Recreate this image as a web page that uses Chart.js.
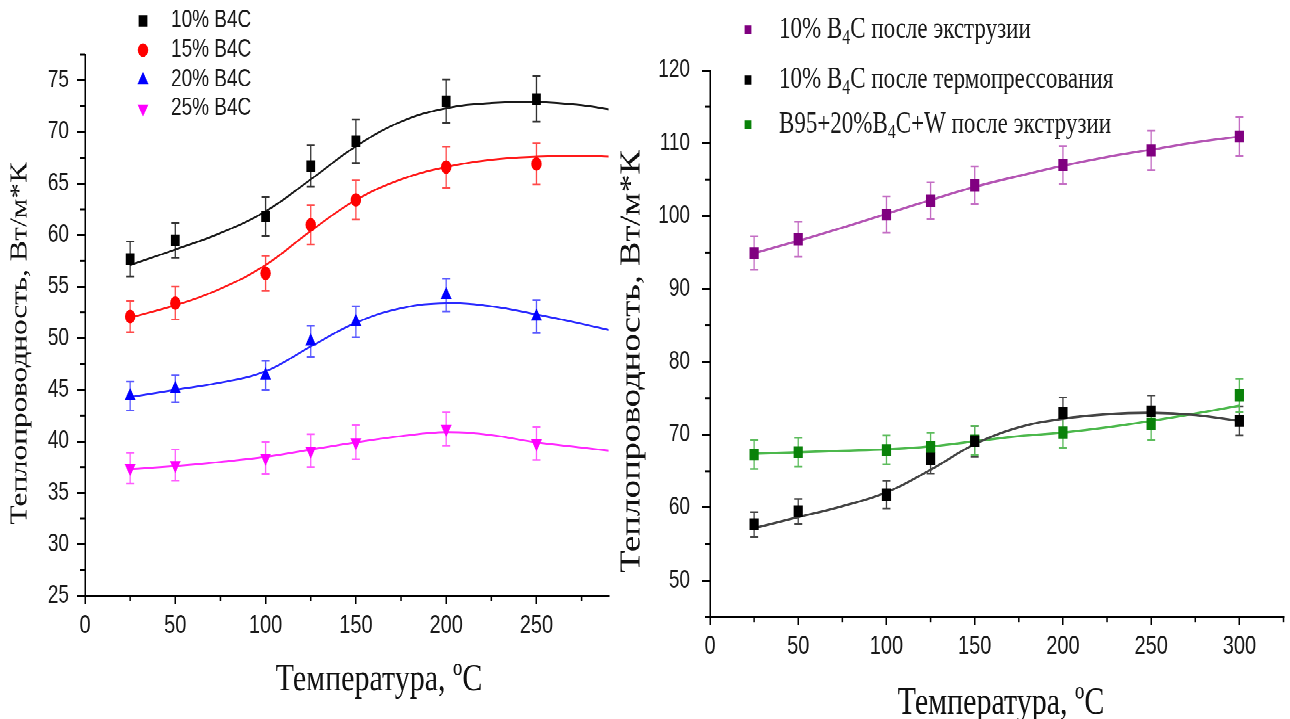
<!DOCTYPE html>
<html>
<head>
<meta charset="utf-8">
<script src="https://cdn.jsdelivr.net/npm/chart.js@4.4.0/dist/chart.umd.min.js"></script>
<style>
  html, body { margin: 0; padding: 0; background: #fff; overflow: hidden; }
  /* картинка-образец растянута по вертикали, поэтому рисуем в 553px и тянем до 719 */
  #wrap { position: absolute; left: 0; top: 0; width: 1290px; height: 553px; transform: scaleY(1.3); transform-origin: 0 0; }
  #boxL { position: absolute; left: 0; top: 0; width: 615px; height: 553px; }
  #boxR { position: absolute; left: 615px; top: 0; width: 675px; height: 553px; }
</style>
</head>
<body>
<div id="wrap">
  <div id="boxL"><canvas id="chartL"></canvas></div>
  <div id="boxR"><canvas id="chartR"></canvas></div>
</div>
<script>
// ---- левый график: разное содержание B4C ----
const tempL = [25, 50, 100, 125, 150, 200, 250];
const b4c10 = [57.7, 59.5, 61.8, 66.7, 69.1, 73.0, 73.2];
const b4c10Err = [1.7, 1.7, 1.9, 2.0, 2.1, 2.1, 2.2];
const b4c15 = [52.1, 53.4, 56.3, 61.0, 63.4, 66.6, 66.9];
const b4c15Err = [1.5, 1.6, 1.7, 1.9, 1.9, 2.0, 2.0];
const b4c20 = [44.4, 45.1, 46.4, 49.7, 51.6, 54.2, 52.1];
const b4c20Err = [1.4, 1.3, 1.4, 1.5, 1.5, 1.6, 1.6];
const b4c25 = [37.4, 37.7, 38.4, 39.1, 39.9, 41.2, 39.8];
const b4c25Err = [1.5, 1.5, 1.55, 1.6, 1.65, 1.6, 1.6];

// сглаживающие кривые
const fitXL = [25, 50, 75, 100, 125, 150, 175, 200, 225, 250, 275, 290];
const fit10 = [57.1, 58.6, 60.2, 62.3, 65.4, 68.6, 71.0, 72.3, 72.8, 72.9, 72.6, 72.2];
const fit15 = [52.0, 53.2, 54.8, 57.1, 60.4, 63.4, 65.4, 66.6, 67.3, 67.6, 67.7, 67.6];
const fit20 = [44.3, 45.0, 45.7, 46.8, 49.2, 51.5, 52.9, 53.4, 53.1, 52.3, 51.4, 50.8];
const fit25 = [37.3, 37.6, 38.0, 38.5, 39.2, 39.9, 40.5, 40.9, 40.6, 39.9, 39.4, 39.1];

// ---- правый график: экструзия / термопрессование ----
const tempR = [25, 50, 100, 125, 150, 200, 250, 300];
const extr10 = [94.9, 96.8, 100.2, 102.1, 104.2, 107.0, 109.0, 110.9];
const extr10Err = [2.3, 2.4, 2.5, 2.5, 2.6, 2.6, 2.7, 2.7];
const press10 = [57.7, 59.5, 61.8, 66.7, 69.1, 73.0, 73.2, 71.9];
const press10Err = [1.7, 1.7, 1.9, 2.0, 2.1, 2.1, 2.2, 2.0];
const extrW = [67.3, 67.6, 67.9, 68.3, 69.2, 70.3, 71.5, 75.4];
const extrWErr = [2.0, 2.0, 2.0, 2.0, 2.0, 2.1, 2.2, 2.3];

const fitXR = [25, 50, 75, 100, 125, 150, 175, 200, 225, 250, 275, 300];
const fitExtr10 = [94.9, 96.6, 98.4, 100.3, 102.2, 104.0, 105.5, 106.9, 108.1, 109.1, 110.1, 110.9];
const fitPress10 = [57.2, 58.7, 60.2, 62.1, 65.2, 68.7, 71.0, 72.2, 72.8, 73.0, 72.7, 71.9];
const fitExtrW = [67.4, 67.6, 67.8, 68.0, 68.4, 69.1, 69.8, 70.3, 71.0, 71.9, 72.9, 74.0];

const yTitle = 'Теплопроводность, Вт/м*К';
const xTitle = 'Температура, ºC';

function pts(xs, ys) { return xs.map((x, i) => ({ x: x, y: ys[i] })); }

// вертикальные погрешности
const errorBars = {
  id: 'errorBars',
  beforeDatasetsDraw(chart) {
    const ctx = chart.ctx, xs = chart.scales.x, ys = chart.scales.y;
    chart.data.datasets.forEach(ds => {
      if (!ds.errors) return;
      ctx.save();
      ctx.strokeStyle = ds.errColor;
      ctx.lineWidth = 1.3;
      ds.data.forEach((p, j) => {
        const x = xs.getPixelForValue(p.x);
        const y1 = ys.getPixelForValue(p.y + ds.errors[j]);
        const y2 = ys.getPixelForValue(p.y - ds.errors[j]);
        ctx.beginPath();
        ctx.moveTo(x, y1); ctx.lineTo(x, y2);
        ctx.moveTo(x - 4, y1); ctx.lineTo(x + 4, y1);
        ctx.moveTo(x - 4, y2); ctx.lineTo(x + 4, y2);
        ctx.stroke();
      });
      ctx.restore();
    });
  }
};

// промежуточные риски
const minorTicks = {
  id: 'minorTicks',
  afterDraw(chart, args, o) {
    const ctx = chart.ctx, xs = chart.scales.x, ys = chart.scales.y;
    ctx.save();
    ctx.strokeStyle = '#000';
    ctx.lineWidth = 1.5;
    for (let v = o.xFrom; v <= xs.max + 1e-6; v += o.xStep) {
      const px = xs.getPixelForValue(v);
      ctx.beginPath(); ctx.moveTo(px, xs.top); ctx.lineTo(px, xs.top + 4); ctx.stroke();
    }
    for (let v = o.yFrom; v <= ys.max + 1e-6; v += o.yStep) {
      const py = ys.getPixelForValue(v);
      ctx.beginPath(); ctx.moveTo(ys.right, py); ctx.lineTo(ys.right - 5, py); ctx.stroke();
    }
    ctx.restore();
  }
};

// текст с нижним индексом: "_4" -> индекс
function drawText(ctx, text, x, y, size) {
  const parts = text.split('_');
  ctx.font = size + 'px "Liberation Serif", serif';
  let cx = x;
  parts.forEach((part, k) => {
    if (k > 0) {
      ctx.font = Math.round(size * 0.68) + 'px "Liberation Serif", serif';
      ctx.fillText(part[0], cx, y + size * 0.28);
      cx += ctx.measureText(part[0]).width;
      ctx.font = size + 'px "Liberation Serif", serif';
      part = part.slice(1);
    }
    ctx.fillText(part, cx, y);
    cx += ctx.measureText(part).width;
  });
}

// подписи осей и легенда
const labelsPlugin = {
  id: 'labelsPlugin',
  afterDraw(chart, args, o) {
    const ctx = chart.ctx;
    ctx.save();
    ctx.fillStyle = '#111';
    ctx.textBaseline = 'middle';
    ctx.textAlign = 'center';
    ctx.font = o.xSize + 'px "Liberation Serif", serif';
    ctx.fillText(xTitle, o.xPos[0], o.xPos[1]);
    ctx.save();
    ctx.translate(o.yPos[0], o.yPos[1]);
    ctx.rotate(-Math.PI / 2);
    ctx.font = o.ySize + 'px "Liberation Serif", serif';
    ctx.fillText(yTitle, 0, 0);
    ctx.restore();
    ctx.textAlign = 'left';
    o.legend.forEach((it, i) => {
      const y = o.legendY[i];
      ctx.fillStyle = it.color;
      Chart.helpers.drawPoint(ctx, { pointStyle: it.style, radius: it.r, rotation: it.rot || 0, borderWidth: 0 }, o.markX, y);
      ctx.fillStyle = '#1a1a1a';
      if (o.serif) {
        drawText(ctx, it.label, o.textX, y, o.legendSize);
      } else {
        ctx.font = o.legendSize + 'px "Liberation Sans", Arial, sans-serif';
        ctx.fillText(it.label, o.textX, y);
      }
    });
    ctx.restore();
  }
};

function pointSet(label, xs, ys, errs, color, errColor, style, r, rot) {
  return {
    label: label, data: pts(xs, ys), errors: errs, errColor: errColor,
    showLine: false, pointStyle: style, pointRadius: r, pointHoverRadius: r,
    pointRotation: rot || 0, pointBackgroundColor: color, pointBorderWidth: 0,
    borderColor: color, backgroundColor: color
  };
}
function fitSet(xs, ys, color, w) {
  return {
    data: pts(xs, ys), showLine: true, borderColor: color, borderWidth: w || 1.5,
    pointRadius: 0, pointHoverRadius: 0, tension: 0.4, fill: false
  };
}

function axes(xMax, yMin, yMax, yStep, yW, xH, yPad) {
  return {
    x: {
      type: 'linear', min: 0, max: xMax,
      afterFit(s) { s.height = xH; },
      border: { color: '#000', width: 1.5 },
      grid: { drawOnChartArea: false, tickLength: 6, color: '#000', lineWidth: 1.5 },
      ticks: { stepSize: 50, includeBounds: false, padding: 5, color: '#1a1a1a', font: { family: '"Liberation Sans", Arial, sans-serif', size: 20 } }
    },
    y: {
      type: 'linear', min: yMin, max: yMax,
      afterFit(s) { s.width = yW; },
      border: { color: '#000', width: 1.5 },
      grid: { drawOnChartArea: false, tickLength: 8, color: '#000', lineWidth: 1.5 },
      ticks: { stepSize: yStep, includeBounds: false, padding: yPad, color: '#1a1a1a', font: { family: '"Liberation Sans", Arial, sans-serif', size: 19 } }
    }
  };
}

Chart.defaults.animation = false;

new Chart(document.getElementById('chartL'), {
  type: 'scatter',
  data: {
    datasets: [
      pointSet('10% B4C', tempL, b4c10, b4c10Err, '#000000', '#333333', 'rect', 6.2),
      pointSet('15% B4C', tempL, b4c15, b4c15Err, '#ff0000', '#ff4a4a', 'circle', 5.2),
      pointSet('20% B4C', tempL, b4c20, b4c20Err, '#0000ff', '#5a5aff', 'triangle', 6.3),
      pointSet('25% B4C', tempL, b4c25, b4c25Err, '#ff00ff', '#ff5cff', 'triangle', 6.3, 180),
      fitSet(fitXL, fit10, '#1a1a1a'),
      fitSet(fitXL, fit15, '#ff1a1a'),
      fitSet(fitXL, fit20, '#2a2aff'),
      fitSet(fitXL, fit25, '#ff2aff')
    ]
  },
  options: {
    responsive: true, maintainAspectRatio: false, devicePixelRatio: 2,
    layout: { padding: { top: 42, right: 3, left: 0, bottom: 0 } },
    scales: axes(290, 25, 77.5, 5, 85, 94.5, 8),
    plugins: {
      legend: { display: false }, tooltip: { enabled: false },
      minorTicks: { xFrom: 25, xStep: 50, yFrom: 27.5, yStep: 5 },
      labelsPlugin: {
        xSize: 30, xPos: [379, 523], ySize: 24, yPos: [20, 264],
        markX: 143, textX: 171, legendSize: 19, serif: false,
        legendY: [16, 38.5, 61.5, 83.5],
        legend: [
          { label: '10% B4C', color: '#000000', style: 'rect', r: 6.2 },
          { label: '15% B4C', color: '#ff0000', style: 'circle', r: 5.2 },
          { label: '20% B4C', color: '#0000ff', style: 'triangle', r: 6.3 },
          { label: '25% B4C', color: '#ff00ff', style: 'triangle', r: 6.3, rot: 180 }
        ]
      }
    }
  },
  plugins: [errorBars, minorTicks, labelsPlugin]
});

new Chart(document.getElementById('chartR'), {
  type: 'scatter',
  data: {
    datasets: [
      pointSet('10% B4C после экструзии', tempR, extr10, extr10Err, '#800080', '#c46ec4', 'rect', 6.5),
      pointSet('10% B4C после термопрессования', tempR, press10, press10Err, '#000000', '#444444', 'rect', 6.5),
      pointSet('B95+20%B4C+W после экструзии', tempR, extrW, extrWErr, '#0a820a', '#5cbc5c', 'rect', 6.5),
      fitSet(fitXR, fitExtr10, '#b455b4', 1.8),
      fitSet(fitXR, fitPress10, '#444444', 1.8),
      fitSet(fitXR, fitExtrW, '#4cb84c', 1.8)
    ]
  },
  options: {
    responsive: true, maintainAspectRatio: false, devicePixelRatio: 2,
    layout: { padding: { top: 54, right: 0, left: 0, bottom: 0 } },
    scales: axes(325, 45, 120, 10, 95, 78.4, 12),
    plugins: {
      legend: { display: false }, tooltip: { enabled: false },
      minorTicks: { xFrom: 25, xStep: 50, yFrom: 45, yStep: 10 },
      labelsPlugin: {
        xSize: 30, xPos: [386, 541], ySize: 28, yPos: [17, 278],
        markX: 133, textX: 164, legendSize: 23, serif: true,
        legendY: [23, 61.5, 96],
        legend: [
          { label: '10% B_4C после экструзии', color: '#800080', style: 'rect', r: 4.8 },
          { label: '10% B_4C после термопрессования', color: '#000000', style: 'rect', r: 4.8 },
          { label: 'B95+20%B_4C+W после экструзии', color: '#0a820a', style: 'rect', r: 4.8 }
        ]
      }
    }
  },
  plugins: [errorBars, minorTicks, labelsPlugin]
});
</script>
</body>
</html>
